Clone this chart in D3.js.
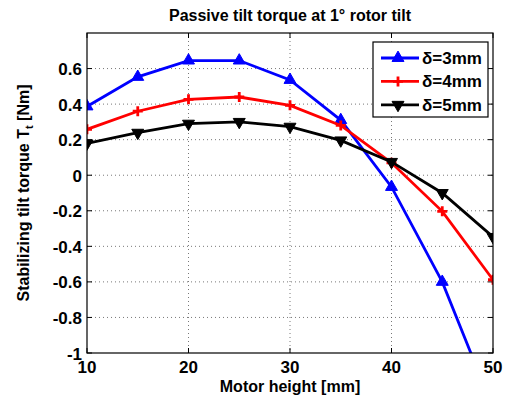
<!DOCTYPE html>
<html>
<head>
<meta charset="utf-8">
<script src="https://cdn.jsdelivr.net/npm/d3@7"></script>
<style>
  body { margin: 0; background: #fff; }
  text { font-family: "Liberation Sans", Arial, sans-serif; font-weight: bold; }
</style>
</head>
<body>
<div id="chart"></div>
<script>
const heights = [10, 15, 20, 25, 30, 35, 40, 45, 50];
const torque3 = [0.387, 0.553, 0.645, 0.645, 0.536, 0.31, -0.066, -0.60, -1.31];
const torque4 = [0.258, 0.36, 0.427, 0.44, 0.393, 0.28, 0.07, -0.203, -0.588];
const torque5 = [0.179, 0.239, 0.29, 0.30, 0.273, 0.196, 0.075, -0.10, -0.347];
const xTicks = [10, 20, 30, 40, 50];
const yTicks = [-1, -0.8, -0.6, -0.4, -0.2, 0, 0.2, 0.4, 0.6];

const series = [
  { name: "δ=3mm", values: torque3, color: "#0000ff", marker: "up" },
  { name: "δ=4mm", values: torque4, color: "#ff0000", marker: "plus" },
  { name: "δ=5mm", values: torque5, color: "#000000", marker: "down" }
];

const width = 507, height = 398;
const margin = { top: 33, right: 14, bottom: 45, left: 87 };
const w = width - margin.left - margin.right;
const h = height - margin.top - margin.bottom;

const svg = d3.select("#chart").append("svg")
  .attr("width", width)
  .attr("height", height);

const g = svg.append("g")
  .attr("transform", `translate(${margin.left},${margin.top})`);

const x = d3.scaleLinear().domain([10, 50]).range([0, w]);
const y = d3.scaleLinear().domain([-1, 0.8]).range([h, 0]);

// grid
g.selectAll(".gx").data(xTicks.slice(1, -1)).join("line")
  .attr("x1", d => x(d)).attr("x2", d => x(d))
  .attr("y1", 0).attr("y2", h)
  .attr("stroke", "#555").attr("stroke-width", 0.8)
  .attr("stroke-dasharray", "1,3");
g.selectAll(".gy").data(yTicks.slice(1)).join("line")
  .attr("x1", 0).attr("x2", w)
  .attr("y1", d => y(d)).attr("y2", d => y(d))
  .attr("stroke", "#555").attr("stroke-width", 0.8)
  .attr("stroke-dasharray", "1,3");

// inward ticks on all sides
const tk = 5;
[0, h].forEach(yy => {
  g.selectAll(null).data(xTicks).join("line")
    .attr("x1", d => x(d)).attr("x2", d => x(d))
    .attr("y1", yy).attr("y2", yy === 0 ? tk : h - tk)
    .attr("stroke", "#000").attr("stroke-width", 1);
});
[0, w].forEach(xx => {
  g.selectAll(null).data(yTicks).join("line")
    .attr("y1", d => y(d)).attr("y2", d => y(d))
    .attr("x1", xx).attr("x2", xx === 0 ? tk : w - tk)
    .attr("stroke", "#000").attr("stroke-width", 1);
});

// tick labels
g.selectAll(".xl").data(xTicks).join("text")
  .attr("x", d => x(d)).attr("y", h + 19.5)
  .attr("text-anchor", "middle")
  .attr("font-size", 17)
  .text(d => d);
g.selectAll(".yl").data(yTicks).join("text")
  .attr("x", -5).attr("y", d => y(d) + 6.5)
  .attr("text-anchor", "end")
  .attr("font-size", 17)
  .text(d => d);

// clip
svg.append("defs").append("clipPath").attr("id", "clip")
  .append("rect").attr("width", w).attr("height", h);

const plot = g.append("g").attr("clip-path", "url(#clip)");

const line = d3.line().x((d, i) => x(heights[i])).y(d => y(d));

const tri = d3.symbol().type(d3.symbolTriangle).size(62);

function drawMarker(sel, s) {
  if (s.marker === "plus") {
    sel.append("path")
      .attr("d", "M-5,0H5M0,-5V5")
      .attr("stroke", s.color).attr("stroke-width", 2.8)
      .attr("fill", "none");
  } else {
    sel.append("path")
      .attr("d", tri())
      .attr("transform", s.marker === "down" ? "rotate(180)" : null)
      .attr("fill", s.color)
      .attr("stroke", s.color).attr("stroke-width", 1);
  }
}

series.forEach(s => {
  plot.append("path")
    .datum(s.values)
    .attr("d", line)
    .attr("fill", "none")
    .attr("stroke", s.color)
    .attr("stroke-width", 2.8);
  s.values.forEach((v, i) => {
    const m = plot.append("g")
      .attr("transform", `translate(${x(heights[i])},${y(v)})`);
    drawMarker(m, s);
  });
});

// box
g.append("rect").attr("width", w).attr("height", h)
  .attr("fill", "none").attr("stroke", "#000").attr("stroke-width", 1.2);

// legend
const lg = g.append("g").attr("transform", `translate(${373 - margin.left},${42 - margin.top})`);
lg.append("rect").attr("width", 115).attr("height", 75)
  .attr("fill", "#fff").attr("stroke", "#000").attr("stroke-width", 1.2);
series.forEach((s, i) => {
  const row = lg.append("g").attr("transform", `translate(0,${16 + i * 23.4})`);
  row.append("line").attr("x1", 8).attr("x2", 46)
    .attr("stroke", s.color).attr("stroke-width", 2.8);
  const m = row.append("g").attr("transform", "translate(25,0)");
  drawMarker(m, s);
  row.append("text").attr("x", 49).attr("y", 6)
    .attr("font-size", 17).text(s.name);
});

// title and axis labels
svg.append("text")
  .attr("x", margin.left + w / 2).attr("y", 21)
  .attr("text-anchor", "middle").attr("font-size", 16)
  .text("Passive tilt torque at 1° rotor tilt");

svg.append("text")
  .attr("x", margin.left + w / 2).attr("y", 391.5)
  .attr("text-anchor", "middle").attr("font-size", 16)
  .text("Motor height [mm]");

const yl = svg.append("text")
  .attr("transform", `translate(29,${margin.top + h / 2}) rotate(-90)`)
  .attr("text-anchor", "middle").attr("font-size", 16);
yl.append("tspan").text("Stabilizing tilt torque T");
yl.append("tspan").attr("font-size", 11).attr("dy", 4).text("t");
yl.append("tspan").attr("dy", -4).text(" [Nm]");
</script>
</body>
</html>
